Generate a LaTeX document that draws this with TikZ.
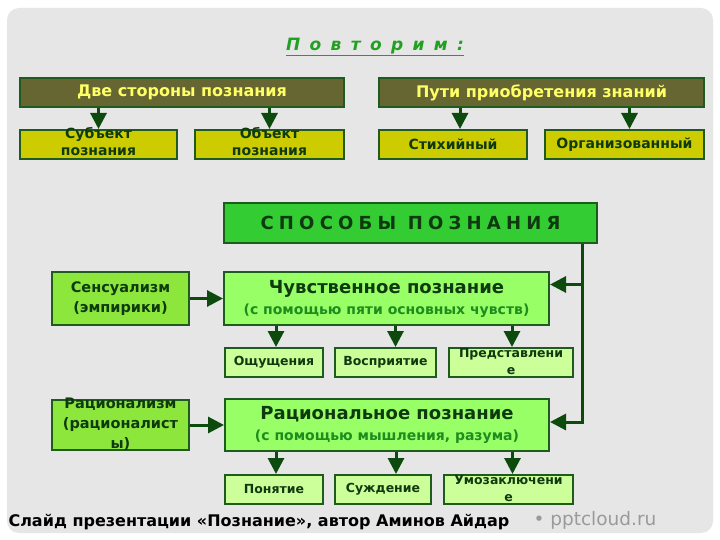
\documentclass[tikz,border=0pt]{standalone}
\usepackage{fontspec}
\setmainfont{DejaVu Sans}
\newfontfamily\titlefont[LetterSpace=55]{DejaVu Sans}
\newfontfamily\capsfont[LetterSpace=29]{DejaVu Sans}
\usepackage{tikz}
\usetikzlibrary{arrows.meta, positioning}
\definecolor{panel}{HTML}{E6E6E6}
\definecolor{olive}{HTML}{666633}
\definecolor{lemon}{HTML}{FFFF66}
\definecolor{mustard}{HTML}{CCCC00}
\definecolor{edge}{HTML}{1F5A1F}
\definecolor{ink}{HTML}{0F3A0F}
\definecolor{grass}{HTML}{33CC33}
\definecolor{lime}{HTML}{99FF66}
\definecolor{sprout}{HTML}{8CE63C}
\definecolor{pale}{HTML}{CCFF99}
\definecolor{subgreen}{HTML}{1E8C1E}
\definecolor{titlegreen}{HTML}{22A022}
\definecolor{arrowgreen}{HTML}{0D4A0D}
\definecolor{sitegray}{HTML}{9A9A9A}
\tikzset{
  box/.style={
    rectangle, draw=edge, line width=2pt,
    inner sep=0pt, text centered,
  },
  header/.style={
    box, fill=olive, text=lemon,
    minimum height=29pt, font=\bfseries\fontsize{16}{19}\selectfont,
  },
  leaf/.style={
    box, fill=mustard, text=ink,
    minimum height=29pt, font=\bfseries\fontsize{14}{17}\selectfont,
  },
  method/.style={
    box, fill=grass, text=ink,
    minimum width=373pt, minimum height=40pt,
    font=\capsfont\bfseries\fontsize{18}{22}\selectfont,
  },
  stage/.style={
    box, fill=lime, text=ink, align=center,
    minimum height=53pt, font=\bfseries\fontsize{18}{21}\selectfont,
  },
  source/.style={
    box, fill=sprout, text=ink, align=center,
    minimum width=137pt, font=\bfseries\fontsize{14.5}{20}\selectfont,
  },
  item/.style={
    box, fill=pale, text=ink,
    minimum height=29pt, font=\bfseries\fontsize{12.5}{17}\selectfont,
  },
  arrow/.style={-{Triangle[length=16pt, width=16pt]}, line width=3pt, draw=arrowgreen},
}
\newcommand{\stack}[1]{\smash{\lower3pt\hbox{\begin{tabular}{@{}c@{}}#1\end{tabular}}}}
\newcommand{\subline}[1]{{\color{subgreen}\fontsize{14}{16}\selectfont #1}}

\begin{document}
\begin{tikzpicture}[x=1pt, y=-1pt]

  \fill[white] (0,0) rectangle (720,540);
  \useasboundingbox (0,0) rectangle (720,540);
  \fill[panel, rounded corners=12pt] (7,8) rectangle (713,533);

  \node[text=titlegreen, font=\titlefont\bfseries\itshape\fontsize{17}{20}\selectfont] (recap) at (375,47) {\underline{Повторим:}};

  % two sides / ways
  \node[header, minimum width=324pt, anchor=north west] (twosides) at (19,77) {Две стороны познания};
  \node[header, minimum width=325pt, right=33pt of twosides] (ways) {Пути приобретения знаний};
  \node[leaf, minimum width=157pt, below right=21pt and 0pt of twosides.south west] (subj) {\stack{Субъект\\познания}};
  \node[leaf, minimum width=149pt, below left=21pt and 0pt of twosides.south east] (obj) {\stack{Объект\\познания}};
  \node[leaf, minimum width=148pt, below right=21pt and 0pt of ways.south west] (spont) {Стихийный};
  \node[leaf, minimum width=159pt, below left=21pt and 0pt of ways.south east] (org) {Организованный};

  % methods of cognition
  \node[method, anchor=north west] (methods) at (223,202) {СПОСОБЫ ПОЗНАНИЯ};
  \node[stage, minimum width=325pt, below right=27pt and 0pt of methods.south west] (sensory) {Чувственное познание\\\subline{(с помощью пяти основных чувств)}};
  \node[source, minimum height=53pt, left=33pt of sensory] (sensual) {Сенсуализм\\(эмпирики)};
  \node[item, minimum width=98pt, below right=21pt and 1pt of sensory.south west] (feel) {Ощущения};
  \node[item, minimum width=101pt, right=10pt of feel] (percept) {Восприятие};
  \node[item, minimum width=124pt, right=11pt of percept] (idea) {\stack{Представлени\\е}};
  \node[stage, minimum width=324pt, minimum height=52pt, below right=72pt and 1pt of sensory.south west] (rational) {Рациональное познание\\\subline{(с помощью мышления, разума)}};
  \node[source, minimum height=50pt, left=34pt of rational] (rationalism) {\stack{Рационализм\\(рационалист\\ы)}};
  \node[item, minimum width=98pt, below right=22pt and 0pt of rational.south west] (concept) {Понятие};
  \node[item, minimum width=96pt, right=10pt of concept] (judge) {Суждение};
  \node[item, minimum width=129pt, right=11pt of judge] (infer) {\stack{Умозаключени\\е}};

  \node[anchor=west, text=black, font=\bfseries\fontsize{16}{19}\selectfont] (credit) at (5,522) {Слайд презентации «Познание», автор Аминов Айдар};
  \node[anchor=west, text=sitegray, font=\fontsize{18.5}{21}\selectfont] (site) at (530,520) {• pptcloud.ru};

  \coordinate (drop) at ([xshift=-16pt]methods.south east);

  \draw[arrow] (twosides.south -| subj.north) -- (subj.north);
  \draw[arrow] (twosides.south -| obj.north) -- (obj.north);
  \draw[arrow] ([xshift=7pt]ways.south -| spont.north) -- ([xshift=7pt]spont.north);
  \draw[arrow] ([xshift=5pt]ways.south -| org.north) -- ([xshift=5pt]org.north);
  \draw[arrow] (drop) |- ([yshift=3pt]rational.east);
  \draw[arrow] ([yshift=14pt]sensory.east -| drop) -- ([yshift=14pt]sensory.east);
  \draw[arrow] (sensual) -- (sensory);
  \draw[arrow] (rationalism) -- (rational);
  \draw[arrow] ([xshift=2pt]sensory.south -| feel.north) -- ([xshift=2pt]feel.north);
  \draw[arrow] ([xshift=10pt]sensory.south -| percept.north) -- ([xshift=10pt]percept.north);
  \draw[arrow] ([xshift=1pt]sensory.south -| idea.north) -- ([xshift=1pt]idea.north);
  \draw[arrow] ([xshift=2pt]rational.south -| concept.north) -- ([xshift=2pt]concept.north);
  \draw[arrow] ([xshift=13pt]rational.south -| judge.north) -- ([xshift=13pt]judge.north);
  \draw[arrow] ([xshift=4pt]rational.south -| infer.north) -- ([xshift=4pt]infer.north);

\end{tikzpicture}
\end{document}
